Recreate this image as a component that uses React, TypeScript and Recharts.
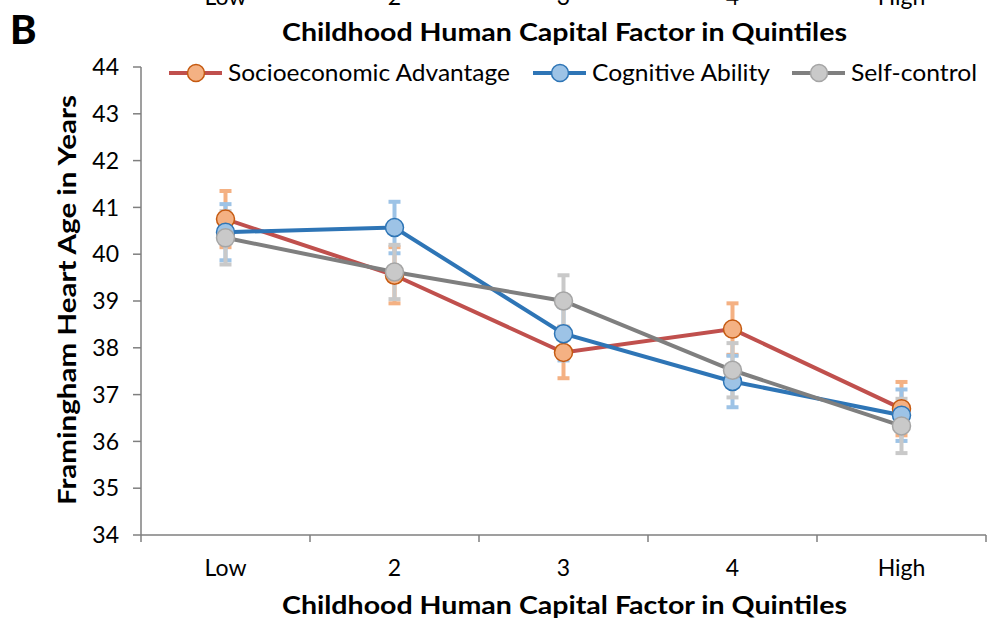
import React from "react";
import { LineChart, Line, XAxis, YAxis, ErrorBar } from "recharts";

const categories = ["Low", "2", "3", "4", "High"];
const socioeconomic = [40.75, 39.55, 37.9, 38.4, 36.7];
const socioeconomicErr = [0.6, 0.6, 0.55, 0.55, 0.57];
const cognitive = [40.47, 40.57, 38.3, 37.28, 36.56];
const cognitiveErr = [0.6, 0.55, 0.57, 0.55, 0.55];
const selfControl = [40.35, 39.62, 39.0, 37.52, 36.33];
const selfControlErr = [0.57, 0.58, 0.55, 0.58, 0.58];
const yTicks = [34, 35, 36, 37, 38, 39, 40, 41, 42, 43, 44];

const data = categories.map((c, i) => ({
  name: c,
  socio: socioeconomic[i],
  socioErr: socioeconomicErr[i],
  cog: cognitive[i],
  cogErr: cognitiveErr[i],
  self: selfControl[i],
  selfErr: selfControlErr[i],
}));

const FONT = "Lato, 'Open Sans', sans-serif";
const HALF_BAND = 84.5;

// legend item layout: icon start x, text width
const series = [
  { key: "socio", name: "Socioeconomic Advantage", line: "#C0504D", fill: "#F4B183", edge: "#C55A11", err: "#F4B183", lx: 169, tw: 282 },
  { key: "cog", name: "Cognitive Ability", line: "#2E75B6", fill: "#9DC3E6", edge: "#2E75B6", err: "#9DC3E6", lx: 533, tw: 178 },
  { key: "self", name: "Self-control", line: "#7F7F7F", fill: "#C9C9C9", edge: "#A5A5A5", err: "#C9C9C9", lx: 792, tw: 126 },
];

const XTick = (props: any) => {
  const { x, y, payload, index } = props;
  const axisY = y - 7;
  const last = index === categories.length - 1;
  return (
    <g>
      <line x1={x - HALF_BAND} x2={x - HALF_BAND} y1={axisY} y2={axisY + 7} stroke="#7f7f7f" strokeWidth={1.5} />
      {last && <line x1={x + HALF_BAND} x2={x + HALF_BAND} y1={axisY} y2={axisY + 7} stroke="#7f7f7f" strokeWidth={1.5} />}
      <text x={x} y={axisY + 41} textAnchor="middle" fontSize={23} fontFamily={FONT} fill="#000">
        {payload.value}
      </text>
    </g>
  );
};

export default function App() {
  return (
    <div style={{ position: "absolute", left: 0, top: 0, width: 987, height: 625, background: "#fff" }}>
      <LineChart width={987} height={625} data={data} margin={{ top: 67, right: 1, left: 0, bottom: 30 }}>
        <XAxis
          dataKey="name"
          height={60}
          padding={{ left: HALF_BAND, right: HALF_BAND }}
          tickLine={false}
          tickSize={7}
          tickMargin={0}
          axisLine={{ stroke: "#7f7f7f", strokeWidth: 1.5 }}
          tick={<XTick />}
          interval={0}
        />
        <YAxis
          width={141}
          domain={[34, 44]}
          ticks={yTicks}
          interval={0}
          tickSize={8}
          tickMargin={14}
          axisLine={{ stroke: "#7f7f7f", strokeWidth: 1.5 }}
          tickLine={{ stroke: "#7f7f7f", strokeWidth: 1.5 }}
          tick={{ fontSize: 23, fontFamily: FONT, fill: "#000" }}
        />
        {series.map((s) => (
          <Line
            key={s.key}
            type="linear"
            dataKey={s.key}
            name={s.name}
            stroke={s.line}
            strokeWidth={4}
            dot={{ r: 9, fill: s.fill, stroke: s.edge, strokeWidth: 1.5 }}
            activeDot={false}
            isAnimationActive={false}
          >
            <ErrorBar dataKey={s.key + "Err"} width={6} strokeWidth={4} stroke={s.err} direction="y" />
          </Line>
        ))}
      </LineChart>
      <svg width={987} height={625} style={{ position: "absolute", left: 0, top: 0, pointerEvents: "none" }}>
        <g fontFamily={FONT} fontSize={23} fill="#000">
          {categories.map((c, i) => (
            <text key={c} x={225.5 + i * 169} y={5} textAnchor="middle">{c}</text>
          ))}
        </g>
        <text x={10} y={44} fontSize={40} fontWeight={900} fontFamily={FONT}>B</text>
        <text x={282} y={41} fontSize={24} fontWeight={700} fontFamily={FONT} textLength={565} lengthAdjust="spacingAndGlyphs">
          Childhood Human Capital Factor in Quintiles
        </text>
        <text x={282} y={614} fontSize={24} fontWeight={700} fontFamily={FONT} textLength={565} lengthAdjust="spacingAndGlyphs">
          Childhood Human Capital Factor in Quintiles
        </text>
        <text
          x={0}
          y={0}
          transform="translate(76 505) rotate(-90)"
          fontSize={24}
          fontWeight={700}
          fontFamily={FONT}
          textLength={410}
          lengthAdjust="spacingAndGlyphs"
        >
          Framingham Heart Age in Years
        </text>
        {series.map((s) => (
          <g key={s.key}>
            <line x1={s.lx} x2={s.lx + 53} y1={73} y2={73} stroke={s.line} strokeWidth={4} />
            <circle cx={s.lx + 27} cy={73} r={8.5} fill={s.fill} stroke={s.edge} strokeWidth={1.5} />
            <text x={s.lx + 59} y={81} fontSize={24} fontFamily={FONT} textLength={s.tw} lengthAdjust="spacingAndGlyphs">
              {s.name}
            </text>
          </g>
        ))}
      </svg>
    </div>
  );
}
